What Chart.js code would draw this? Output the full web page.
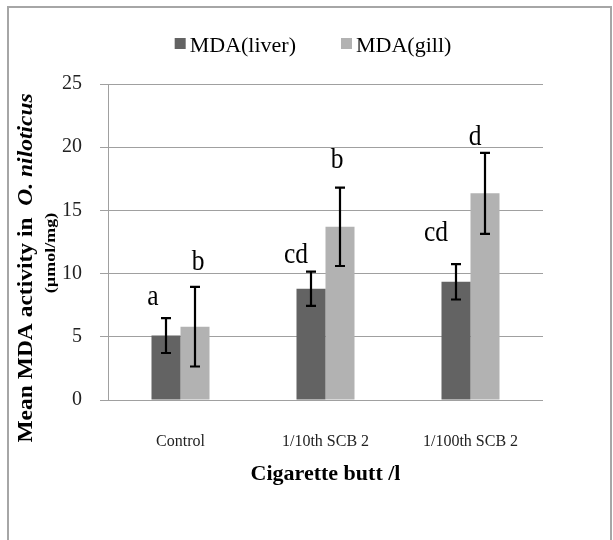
<!DOCTYPE html>
<html>
<head>
<meta charset="utf-8">
<script src="https://cdn.jsdelivr.net/npm/chart.js@4.4.1/dist/chart.umd.min.js"></script>
<style>
  html, body { margin: 0; padding: 0; background: #ffffff; }
  #chart { display: block; }
</style>
</head>
<body>
<canvas id="chart" width="613" height="540"></canvas>
<script>
// Mean MDA activity (µmol/mg) in O. niloticus liver and gill per treatment
const categories = ['Control', '1/10th SCB 2', '1/100th SCB 2'];
const liverMDA = [5.1, 8.8, 9.35];
const gillMDA = [5.8, 13.7, 16.35];
const liverSD = [1.38, 1.35, 1.4];
const gillSD = [3.15, 3.1, 3.2];
const liverGroups = ['a', 'cd', 'cd'];
const gillGroups = ['b', 'b', 'd'];
const yTicks = [0, 5, 10, 15, 20, 25];

const SERIF = '"Liberation Serif", "Times New Roman", Times, serif';

// hand placement of the significance letters: [dx from bar centre, gap above error cap]
const letterPlacement = [
  [[-13, 13], [-15, 9], [-20, 23]],
  [[3, 17], [-3, 20], [-10, 8]]
];

const errorSets = [liverSD, gillSD];
const letterSets = [liverGroups, gillGroups];

const framePlugin = {
  id: 'frame',
  beforeDraw(chart) {
    const ctx = chart.ctx;
    ctx.save();
    ctx.fillStyle = '#ffffff';
    ctx.fillRect(0, 0, chart.width, chart.height);
    ctx.strokeStyle = '#a6a6a6';
    ctx.lineWidth = 2;
    ctx.strokeRect(8, 7, 603, 560);
    ctx.restore();
  }
};

const errorBarPlugin = {
  id: 'errorBars',
  afterDatasetsDraw(chart) {
    const ctx = chart.ctx;
    const y = chart.scales.y;
    ctx.save();
    ctx.strokeStyle = '#000000';
    ctx.lineWidth = 2.2;
    chart.data.datasets.forEach((ds, i) => {
      const meta = chart.getDatasetMeta(i);
      meta.data.forEach((bar, j) => {
        const v = ds.data[j];
        const e = errorSets[i][j];
        const top = y.getPixelForValue(v + e);
        const bot = y.getPixelForValue(v - e);
        const x = bar.x;
        ctx.beginPath();
        ctx.moveTo(x, top); ctx.lineTo(x, bot);
        ctx.moveTo(x - 5, top); ctx.lineTo(x + 5, top);
        ctx.moveTo(x - 5, bot); ctx.lineTo(x + 5, bot);
        ctx.stroke();
      });
    });
    // significance letters above each error bar
    ctx.fillStyle = '#000000';
    ctx.font = '30px ' + SERIF;
    ctx.textAlign = 'center';
    ctx.textBaseline = 'alphabetic';
    chart.data.datasets.forEach((ds, i) => {
      const meta = chart.getDatasetMeta(i);
      meta.data.forEach((bar, j) => {
        const top = y.getPixelForValue(ds.data[j] + errorSets[i][j]);
        const [dx, gap] = letterPlacement[i][j];
        ctx.save();
        ctx.translate(bar.x + dx, top - gap);
        ctx.scale(0.85, 1);
        ctx.fillText(letterSets[i][j], 0, 0);
        ctx.restore();
      });
    });
    ctx.restore();
  }
};

const legendPlugin = {
  id: 'topLegend',
  afterDraw(chart) {
    const ctx = chart.ctx;
    ctx.save();
    ctx.font = '22px ' + SERIF;
    const box = 11, gap = 4, spacing = 45;
    const items = chart.data.datasets.map(ds => ({
      label: ds.label, color: ds.backgroundColor, w: ctx.measureText(ds.label).width
    }));
    const total = items.reduce((s, it) => s + box + gap + it.w, 0) + spacing * (items.length - 1);
    let x = 313 - total / 2;
    ctx.textBaseline = 'alphabetic';
    ctx.textAlign = 'left';
    items.forEach(it => {
      ctx.fillStyle = it.color;
      ctx.fillRect(x, 38, box, box);
      ctx.fillStyle = '#000000';
      ctx.fillText(it.label, x + box + gap, 52);
      x += box + gap + it.w + spacing;
    });
    ctx.restore();
  }
};

const yTitlePlugin = {
  id: 'yTitle',
  afterDraw(chart) {
    const ctx = chart.ctx;
    ctx.save();
    ctx.fillStyle = '#000000';
    ctx.textBaseline = 'middle';
    ctx.textAlign = 'left';
    // first line: plain bold + bold italic species name
    ctx.save();
    ctx.translate(27, 268);
    ctx.scale(0.85, 1);
    ctx.rotate(-Math.PI / 2);
    const p1 = 'Mean MDA activity in  ';
    const p2 = 'O. niloticus';
    ctx.font = 'bold 23.5px ' + SERIF;
    const w1 = ctx.measureText(p1).width;
    ctx.font = 'italic bold 23.5px ' + SERIF;
    const w2 = ctx.measureText(p2).width;
    const start = -(w1 + w2) / 2;
    ctx.font = 'bold 23.5px ' + SERIF;
    ctx.fillText(p1, start, 0);
    ctx.font = 'italic bold 23.5px ' + SERIF;
    ctx.fillText(p2, start + w1, 0);
    ctx.restore();
    // second line: unit
    ctx.save();
    ctx.translate(51, 253);
    ctx.scale(0.85, 1);
    ctx.rotate(-Math.PI / 2);
    ctx.font = 'bold 18px ' + SERIF;
    ctx.textAlign = 'center';
    ctx.fillText('(µmol/mg)', 0, 0);
    ctx.restore();
    ctx.restore();
  }
};

new Chart(document.getElementById('chart'), {
  type: 'bar',
  data: {
    labels: categories,
    datasets: [
      { label: 'MDA(liver)', data: liverMDA, backgroundColor: '#636363', borderWidth: 0 },
      { label: 'MDA(gill)', data: gillMDA, backgroundColor: '#b2b2b2', borderWidth: 0 }
    ]
  },
  options: {
    responsive: false,
    animation: false,
    devicePixelRatio: 1,
    layout: { padding: { top: 84, right: 70, bottom: 0, left: 0 } },
    datasets: { bar: { categoryPercentage: 0.4, barPercentage: 1.0 } },
    plugins: {
      legend: { display: false },
      tooltip: { enabled: false }
    },
    scales: {
      x: {
        grid: { display: false },
        border: { display: false },
        ticks: {
          font: { family: SERIF, size: 16 },
          color: '#222222',
          padding: 24,
          maxRotation: 0
        },
        title: {
          display: true,
          text: 'Cigarette butt /l',
          font: { family: SERIF, size: 22, weight: 'bold' },
          color: '#000000',
          padding: { top: 0, bottom: 52 }
        },
        afterFit(scale) { scale.height = 140; }
      },
      y: {
        min: 0,
        max: 25,
        afterBuildTicks(scale) { scale.ticks = yTicks.map(v => ({ value: v })); },
        grid: { color: '#a0a0a0', lineWidth: 1, tickLength: 8 },
        border: { display: true, color: '#a0a0a0', width: 1 },
        ticks: {
          font: { family: SERIF, size: 20 },
          color: '#222222',
          padding: 18
        },
        afterFit(scale) { scale.width = 108; }
      }
    }
  },
  plugins: [framePlugin, errorBarPlugin, legendPlugin, yTitlePlugin]
});
</script>
</body>
</html>
